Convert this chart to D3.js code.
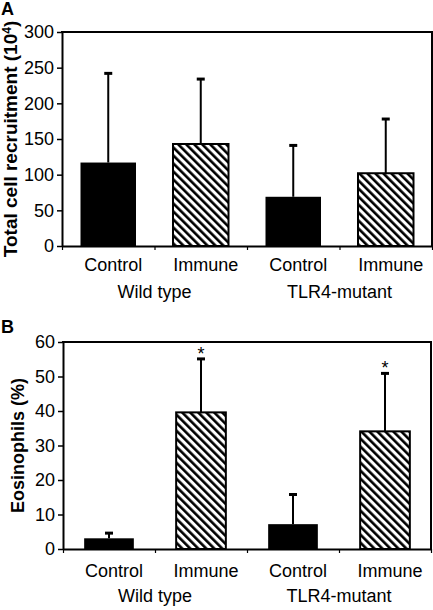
<!DOCTYPE html>
<html><head><meta charset="utf-8">
<script src="https://cdn.jsdelivr.net/npm/d3@7/dist/d3.min.js"></script>
<style>
html,body{margin:0;padding:0;background:#fff;}
svg{display:block;}
text{font-family:"Liberation Sans",Arial,Helvetica,sans-serif;fill:#000;}
</style></head>
<body>
<svg id="chart" width="433" height="610"></svg>
<script>
// ---- data ----
const categories = ["WT Control", "WT Immune", "TLR4 Control", "TLR4 Immune"];
const categoryLabels = ["Control", "Immune", "Control", "Immune"];
const groups = ["Wild type", "TLR4-mutant"];
const fills = ["solid", "hatch", "solid", "hatch"];
const totalCells = [117, 143, 69, 102];
const totalCellsErr = [125, 91, 72, 76];
const eosinophils = [3.1, 39.6, 7.2, 34.1];
const eosinophilsErr = [1.5, 15.5, 8.6, 16.8];
const significant = [false, true, false, true];
const ticksA = [0, 50, 100, 150, 200, 250, 300];
const ticksB = [0, 10, 20, 30, 40, 50, 60];

const svg = d3.select("#chart");
const defs = svg.append("defs");
const pat = defs.append("pattern").attr("id", "hatch")
  .attr("patternUnits", "userSpaceOnUse").attr("width", 5.66).attr("height", 5.66)
  .attr("patternTransform", "rotate(-45)");
pat.append("rect").attr("width", 5.66).attr("height", 5.66).attr("fill", "#fff");
pat.append("rect").attr("x", 0).attr("width", 2.6).attr("height", 5.66).attr("fill", "#000");

function panel(opt) {
  const {left, right, top, bottom, max, ticks, values, errs, title, titleX, titleSize, letter, letterY,
         barFrac, labelY, groupY, showStars} = opt;
  const g = svg.append("g");
  const y = d3.scaleLinear().domain([0, max]).range([bottom, top]);
  const x = d3.scaleBand().domain(categories).range([left, right]).padding(0);
  const xl = d3.scaleLinear().domain([0, categories.length]).range([left, right]);
  const bw = x.bandwidth() * barFrac;

  // bars
  g.selectAll("rect.bar").data(categories).join("rect")
    .attr("x", (c) => x(c) + (x.bandwidth() - bw) / 2)
    .attr("width", bw)
    .attr("y", (c, i) => y(values[i]))
    .attr("height", (c, i) => y(0) - y(values[i]))
    .attr("fill", (c, i) => fills[i] === "hatch" ? "url(#hatch)" : "#000")
    .attr("stroke", "#000").attr("stroke-width", (c, i) => fills[i] === "hatch" ? 2 : 0);

  // error bars (upper only)
  const eb = g.selectAll("g.err").data(categories).join("g");
  eb.append("line")
    .attr("x1", (c) => x(c) + x.bandwidth() / 2).attr("x2", (c) => x(c) + x.bandwidth() / 2)
    .attr("y1", (c, i) => y(values[i])).attr("y2", (c, i) => y(values[i] + errs[i]))
    .attr("stroke", "#000").attr("stroke-width", 2);
  eb.append("line")
    .attr("x1", (c) => x(c) + x.bandwidth() / 2 - 4).attr("x2", (c) => x(c) + x.bandwidth() / 2 + 4)
    .attr("y1", (c, i) => y(values[i] + errs[i])).attr("y2", (c, i) => y(values[i] + errs[i]))
    .attr("stroke", "#000").attr("stroke-width", 3);
  if (showStars) {
    g.selectAll("text.star").data(categories.filter((c, i) => significant[i])).join("text")
      .attr("x", (c) => x(c) + x.bandwidth() / 2)
      .attr("y", (c) => { const i = categories.indexOf(c); return y(values[i] + errs[i]) + 1; })
      .attr("text-anchor", "middle").attr("font-size", 18).text("*");
  }

  // y axis
  const ya = g.append("g").attr("transform", `translate(${left},0)`)
    .call(d3.axisLeft(y).tickValues(ticks).tickSize(5).tickSizeOuter(0).tickPadding(3));
  ya.select(".domain").attr("stroke-width", 2);
  ya.selectAll(".tick line").attr("stroke-width", 1.5);
  ya.selectAll(".tick text").attr("font-size", 18).attr("font-family", null);

  // x axis with boundary ticks
  const xa = g.append("g").attr("transform", `translate(0,${bottom})`)
    .call(d3.axisBottom(xl).tickValues(d3.range(categories.length + 1)).tickSize(4).tickSizeOuter(0).tickFormat(""));
  xa.select(".domain").attr("stroke-width", 2);
  xa.selectAll(".tick line").attr("stroke-width", 1.2);

  // frame top & right
  g.append("path").attr("d", `M${left - 1},${top}H${right}V${bottom}`)
    .attr("fill", "none").attr("stroke", "#000").attr("stroke-width", 2);

  // category labels
  g.selectAll("text.cat").data(categories).join("text")
    .attr("x", (c) => x(c) + x.bandwidth() / 2 + 5).attr("y", labelY)
    .attr("text-anchor", "middle").attr("font-size", 18)
    .text((c, i) => categoryLabels[i]);
  // group labels
  g.selectAll("text.grp").data(groups).join("text")
    .attr("x", (d, i) => xl(i * 2 + 1)).attr("y", groupY)
    .attr("text-anchor", "middle").attr("font-size", 18)
    .text((d) => d);

  // y title
  const t = g.append("text")
    .attr("transform", `translate(${titleX},${(top + bottom) / 2}) rotate(-90)`)
    .attr("text-anchor", "middle").attr("font-size", titleSize).attr("font-weight", "bold");
  title(t);

  // panel letter
  g.append("text").attr("x", 1).attr("y", letterY).attr("font-size", 18)
    .attr("font-weight", "bold").text(letter);
}

panel({
  left: 62, right: 432, top: 32, bottom: 246, max: 300, ticks: ticksA,
  values: totalCells, errs: totalCellsErr, barFrac: 0.6,
  title: (t) => {
    t.append("tspan").text("Total cell recruitment (10");
    t.append("tspan").attr("font-size", 12).attr("dy", -6).text("4");
    t.append("tspan").attr("dy", 6).text(")");
  },
  titleX: 17, titleSize: 19, letter: "A", letterY: 15, labelY: 271, groupY: 298, showStars: false
});

panel({
  left: 63, right: 431, top: 342, bottom: 549, max: 60, ticks: ticksB,
  values: eosinophils, errs: eosinophilsErr, barFrac: 0.54,
  title: (t) => { t.text("Eosinophils (%)"); },
  titleX: 24, titleSize: 18, letter: "B", letterY: 333, labelY: 577, groupY: 602, showStars: true
});
</script>
</body></html>
